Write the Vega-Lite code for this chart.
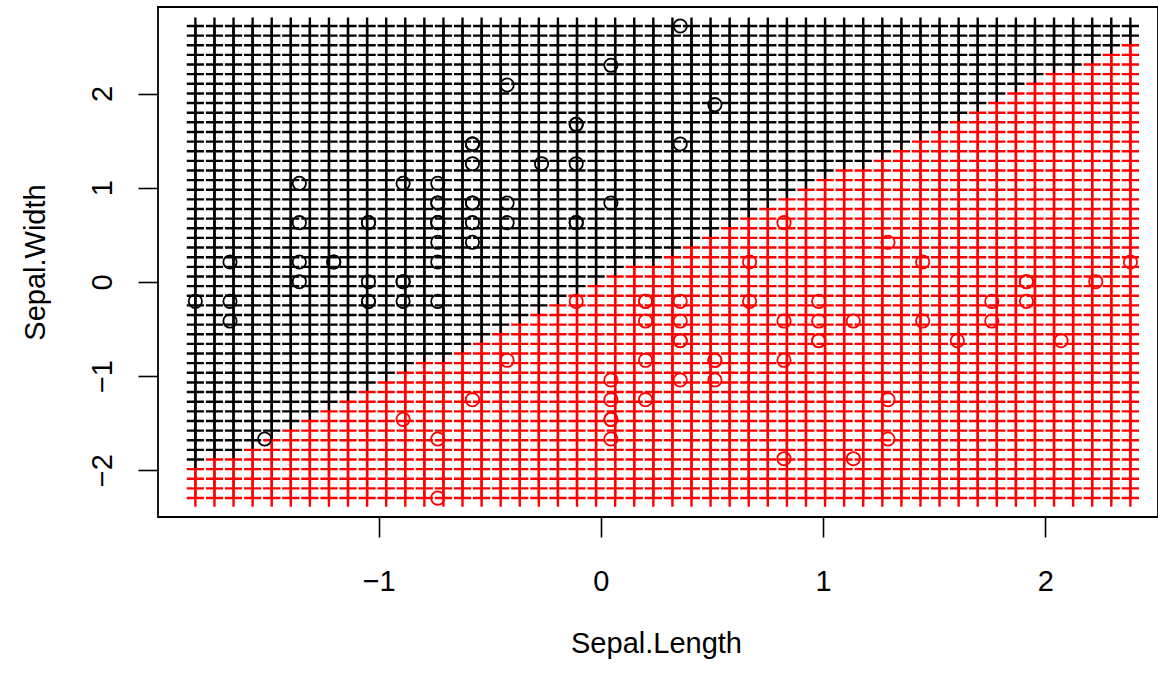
{
"$schema": "https://vega.github.io/schema/vega-lite/v6.json",
"width": 1000,
"height": 510,
"autosize": {"type": "none"},
"padding": {"left": 158, "top": 7, "right": 0, "bottom": 157},
"background": "white",
"config": {"view": {"stroke": "black", "strokeWidth": 1.8}, "font": "Liberation Sans"},
"datasets": {
"gy": [
{"i":0,"y":-2.2956},{"i":1,"y":-2.1933},{"i":2,"y":-2.0910},{"i":3,"y":-1.9887},{"i":4,"y":-1.8864},{"i":5,"y":-1.7841},{"i":6,"y":-1.6818},{"i":7,"y":-1.5795},{"i":8,"y":-1.4772},{"i":9,"y":-1.3749},
{"i":10,"y":-1.2725},{"i":11,"y":-1.1702},{"i":12,"y":-1.0679},{"i":13,"y":-0.9656},{"i":14,"y":-0.8633},{"i":15,"y":-0.7610},{"i":16,"y":-0.6587},{"i":17,"y":-0.5564},{"i":18,"y":-0.4541},{"i":19,"y":-0.3518},
{"i":20,"y":-0.2495},{"i":21,"y":-0.1472},{"i":22,"y":-0.0449},{"i":23,"y":0.0574},{"i":24,"y":0.1597},{"i":25,"y":0.2621},{"i":26,"y":0.3644},{"i":27,"y":0.4667},{"i":28,"y":0.5690},{"i":29,"y":0.6713},
{"i":30,"y":0.7736},{"i":31,"y":0.8759},{"i":32,"y":0.9782},{"i":33,"y":1.0805},{"i":34,"y":1.1828},{"i":35,"y":1.2851},{"i":36,"y":1.3874},{"i":37,"y":1.4897},{"i":38,"y":1.5920},{"i":39,"y":1.6943},
{"i":40,"y":1.7966},{"i":41,"y":1.8989},{"i":42,"y":2.0012},{"i":43,"y":2.1035},{"i":44,"y":2.2058},{"i":45,"y":2.3082},{"i":46,"y":2.4105},{"i":47,"y":2.5128},{"i":48,"y":2.6151},{"i":49,"y":2.7174}
],
"grid": [
{"x":-1.8248,"c":"versicolor","i":[0,1,2,3]},
{"x":-1.8248,"c":"setosa","i":[4,5,6,7,8,9,10,11,12,13,14,15,16,17,18,19,20,21,22,23,24,25,26,27,28,29,30,31,32,33,34,35,36,37,38,39,40,41,42,43,44,45,46,47,48,49]},
{"x":-1.7389,"c":"versicolor","i":[0,1,2,3,4]},
{"x":-1.7389,"c":"setosa","i":[5,6,7,8,9,10,11,12,13,14,15,16,17,18,19,20,21,22,23,24,25,26,27,28,29,30,31,32,33,34,35,36,37,38,39,40,41,42,43,44,45,46,47,48,49]},
{"x":-1.6531,"c":"versicolor","i":[0,1,2,3,4]},
{"x":-1.6531,"c":"setosa","i":[5,6,7,8,9,10,11,12,13,14,15,16,17,18,19,20,21,22,23,24,25,26,27,28,29,30,31,32,33,34,35,36,37,38,39,40,41,42,43,44,45,46,47,48,49]},
{"x":-1.5672,"c":"versicolor","i":[0,1,2,3,4,5]},
{"x":-1.5672,"c":"setosa","i":[6,7,8,9,10,11,12,13,14,15,16,17,18,19,20,21,22,23,24,25,26,27,28,29,30,31,32,33,34,35,36,37,38,39,40,41,42,43,44,45,46,47,48,49]},
{"x":-1.4813,"c":"versicolor","i":[0,1,2,3,4,5,6]},
{"x":-1.4813,"c":"setosa","i":[7,8,9,10,11,12,13,14,15,16,17,18,19,20,21,22,23,24,25,26,27,28,29,30,31,32,33,34,35,36,37,38,39,40,41,42,43,44,45,46,47,48,49]},
{"x":-1.3955,"c":"versicolor","i":[0,1,2,3,4,5,6,7]},
{"x":-1.3955,"c":"setosa","i":[8,9,10,11,12,13,14,15,16,17,18,19,20,21,22,23,24,25,26,27,28,29,30,31,32,33,34,35,36,37,38,39,40,41,42,43,44,45,46,47,48,49]},
{"x":-1.3096,"c":"versicolor","i":[0,1,2,3,4,5,6,7,8]},
{"x":-1.3096,"c":"setosa","i":[9,10,11,12,13,14,15,16,17,18,19,20,21,22,23,24,25,26,27,28,29,30,31,32,33,34,35,36,37,38,39,40,41,42,43,44,45,46,47,48,49]},
{"x":-1.2237,"c":"versicolor","i":[0,1,2,3,4,5,6,7,8,9]},
{"x":-1.2237,"c":"setosa","i":[10,11,12,13,14,15,16,17,18,19,20,21,22,23,24,25,26,27,28,29,30,31,32,33,34,35,36,37,38,39,40,41,42,43,44,45,46,47,48,49]},
{"x":-1.1379,"c":"versicolor","i":[0,1,2,3,4,5,6,7,8,9,10]},
{"x":-1.1379,"c":"setosa","i":[11,12,13,14,15,16,17,18,19,20,21,22,23,24,25,26,27,28,29,30,31,32,33,34,35,36,37,38,39,40,41,42,43,44,45,46,47,48,49]},
{"x":-1.0520,"c":"versicolor","i":[0,1,2,3,4,5,6,7,8,9,10,11]},
{"x":-1.0520,"c":"setosa","i":[12,13,14,15,16,17,18,19,20,21,22,23,24,25,26,27,28,29,30,31,32,33,34,35,36,37,38,39,40,41,42,43,44,45,46,47,48,49]},
{"x":-0.9661,"c":"versicolor","i":[0,1,2,3,4,5,6,7,8,9,10,11,12]},
{"x":-0.9661,"c":"setosa","i":[13,14,15,16,17,18,19,20,21,22,23,24,25,26,27,28,29,30,31,32,33,34,35,36,37,38,39,40,41,42,43,44,45,46,47,48,49]},
{"x":-0.8803,"c":"versicolor","i":[0,1,2,3,4,5,6,7,8,9,10,11,12,13]},
{"x":-0.8803,"c":"setosa","i":[14,15,16,17,18,19,20,21,22,23,24,25,26,27,28,29,30,31,32,33,34,35,36,37,38,39,40,41,42,43,44,45,46,47,48,49]},
{"x":-0.7944,"c":"versicolor","i":[0,1,2,3,4,5,6,7,8,9,10,11,12,13,14]},
{"x":-0.7944,"c":"setosa","i":[15,16,17,18,19,20,21,22,23,24,25,26,27,28,29,30,31,32,33,34,35,36,37,38,39,40,41,42,43,44,45,46,47,48,49]},
{"x":-0.7085,"c":"versicolor","i":[0,1,2,3,4,5,6,7,8,9,10,11,12,13,14]},
{"x":-0.7085,"c":"setosa","i":[15,16,17,18,19,20,21,22,23,24,25,26,27,28,29,30,31,32,33,34,35,36,37,38,39,40,41,42,43,44,45,46,47,48,49]},
{"x":-0.6227,"c":"versicolor","i":[0,1,2,3,4,5,6,7,8,9,10,11,12,13,14,15]},
{"x":-0.6227,"c":"setosa","i":[16,17,18,19,20,21,22,23,24,25,26,27,28,29,30,31,32,33,34,35,36,37,38,39,40,41,42,43,44,45,46,47,48,49]},
{"x":-0.5368,"c":"versicolor","i":[0,1,2,3,4,5,6,7,8,9,10,11,12,13,14,15,16]},
{"x":-0.5368,"c":"setosa","i":[17,18,19,20,21,22,23,24,25,26,27,28,29,30,31,32,33,34,35,36,37,38,39,40,41,42,43,44,45,46,47,48,49]},
{"x":-0.4509,"c":"versicolor","i":[0,1,2,3,4,5,6,7,8,9,10,11,12,13,14,15,16,17]},
{"x":-0.4509,"c":"setosa","i":[18,19,20,21,22,23,24,25,26,27,28,29,30,31,32,33,34,35,36,37,38,39,40,41,42,43,44,45,46,47,48,49]},
{"x":-0.3651,"c":"versicolor","i":[0,1,2,3,4,5,6,7,8,9,10,11,12,13,14,15,16,17,18]},
{"x":-0.3651,"c":"setosa","i":[19,20,21,22,23,24,25,26,27,28,29,30,31,32,33,34,35,36,37,38,39,40,41,42,43,44,45,46,47,48,49]},
{"x":-0.2792,"c":"versicolor","i":[0,1,2,3,4,5,6,7,8,9,10,11,12,13,14,15,16,17,18,19]},
{"x":-0.2792,"c":"setosa","i":[20,21,22,23,24,25,26,27,28,29,30,31,32,33,34,35,36,37,38,39,40,41,42,43,44,45,46,47,48,49]},
{"x":-0.1933,"c":"versicolor","i":[0,1,2,3,4,5,6,7,8,9,10,11,12,13,14,15,16,17,18,19,20]},
{"x":-0.1933,"c":"setosa","i":[21,22,23,24,25,26,27,28,29,30,31,32,33,34,35,36,37,38,39,40,41,42,43,44,45,46,47,48,49]},
{"x":-0.1075,"c":"versicolor","i":[0,1,2,3,4,5,6,7,8,9,10,11,12,13,14,15,16,17,18,19,20,21]},
{"x":-0.1075,"c":"setosa","i":[22,23,24,25,26,27,28,29,30,31,32,33,34,35,36,37,38,39,40,41,42,43,44,45,46,47,48,49]},
{"x":-0.0216,"c":"versicolor","i":[0,1,2,3,4,5,6,7,8,9,10,11,12,13,14,15,16,17,18,19,20,21,22]},
{"x":-0.0216,"c":"setosa","i":[23,24,25,26,27,28,29,30,31,32,33,34,35,36,37,38,39,40,41,42,43,44,45,46,47,48,49]},
{"x":0.0643,"c":"versicolor","i":[0,1,2,3,4,5,6,7,8,9,10,11,12,13,14,15,16,17,18,19,20,21,22,23]},
{"x":0.0643,"c":"setosa","i":[24,25,26,27,28,29,30,31,32,33,34,35,36,37,38,39,40,41,42,43,44,45,46,47,48,49]},
{"x":0.1501,"c":"versicolor","i":[0,1,2,3,4,5,6,7,8,9,10,11,12,13,14,15,16,17,18,19,20,21,22,23,24]},
{"x":0.1501,"c":"setosa","i":[25,26,27,28,29,30,31,32,33,34,35,36,37,38,39,40,41,42,43,44,45,46,47,48,49]},
{"x":0.2360,"c":"versicolor","i":[0,1,2,3,4,5,6,7,8,9,10,11,12,13,14,15,16,17,18,19,20,21,22,23,24]},
{"x":0.2360,"c":"setosa","i":[25,26,27,28,29,30,31,32,33,34,35,36,37,38,39,40,41,42,43,44,45,46,47,48,49]},
{"x":0.3219,"c":"versicolor","i":[0,1,2,3,4,5,6,7,8,9,10,11,12,13,14,15,16,17,18,19,20,21,22,23,24,25]},
{"x":0.3219,"c":"setosa","i":[26,27,28,29,30,31,32,33,34,35,36,37,38,39,40,41,42,43,44,45,46,47,48,49]},
{"x":0.4077,"c":"versicolor","i":[0,1,2,3,4,5,6,7,8,9,10,11,12,13,14,15,16,17,18,19,20,21,22,23,24,25,26]},
{"x":0.4077,"c":"setosa","i":[27,28,29,30,31,32,33,34,35,36,37,38,39,40,41,42,43,44,45,46,47,48,49]},
{"x":0.4936,"c":"versicolor","i":[0,1,2,3,4,5,6,7,8,9,10,11,12,13,14,15,16,17,18,19,20,21,22,23,24,25,26,27]},
{"x":0.4936,"c":"setosa","i":[28,29,30,31,32,33,34,35,36,37,38,39,40,41,42,43,44,45,46,47,48,49]},
{"x":0.5795,"c":"versicolor","i":[0,1,2,3,4,5,6,7,8,9,10,11,12,13,14,15,16,17,18,19,20,21,22,23,24,25,26,27,28]},
{"x":0.5795,"c":"setosa","i":[29,30,31,32,33,34,35,36,37,38,39,40,41,42,43,44,45,46,47,48,49]},
{"x":0.6653,"c":"versicolor","i":[0,1,2,3,4,5,6,7,8,9,10,11,12,13,14,15,16,17,18,19,20,21,22,23,24,25,26,27,28,29]},
{"x":0.6653,"c":"setosa","i":[30,31,32,33,34,35,36,37,38,39,40,41,42,43,44,45,46,47,48,49]},
{"x":0.7512,"c":"versicolor","i":[0,1,2,3,4,5,6,7,8,9,10,11,12,13,14,15,16,17,18,19,20,21,22,23,24,25,26,27,28,29,30]},
{"x":0.7512,"c":"setosa","i":[31,32,33,34,35,36,37,38,39,40,41,42,43,44,45,46,47,48,49]},
{"x":0.8371,"c":"versicolor","i":[0,1,2,3,4,5,6,7,8,9,10,11,12,13,14,15,16,17,18,19,20,21,22,23,24,25,26,27,28,29,30,31]},
{"x":0.8371,"c":"setosa","i":[32,33,34,35,36,37,38,39,40,41,42,43,44,45,46,47,48,49]},
{"x":0.9229,"c":"versicolor","i":[0,1,2,3,4,5,6,7,8,9,10,11,12,13,14,15,16,17,18,19,20,21,22,23,24,25,26,27,28,29,30,31,32]},
{"x":0.9229,"c":"setosa","i":[33,34,35,36,37,38,39,40,41,42,43,44,45,46,47,48,49]},
{"x":1.0088,"c":"versicolor","i":[0,1,2,3,4,5,6,7,8,9,10,11,12,13,14,15,16,17,18,19,20,21,22,23,24,25,26,27,28,29,30,31,32,33]},
{"x":1.0088,"c":"setosa","i":[34,35,36,37,38,39,40,41,42,43,44,45,46,47,48,49]},
{"x":1.0947,"c":"versicolor","i":[0,1,2,3,4,5,6,7,8,9,10,11,12,13,14,15,16,17,18,19,20,21,22,23,24,25,26,27,28,29,30,31,32,33,34]},
{"x":1.0947,"c":"setosa","i":[35,36,37,38,39,40,41,42,43,44,45,46,47,48,49]},
{"x":1.1805,"c":"versicolor","i":[0,1,2,3,4,5,6,7,8,9,10,11,12,13,14,15,16,17,18,19,20,21,22,23,24,25,26,27,28,29,30,31,32,33,34]},
{"x":1.1805,"c":"setosa","i":[35,36,37,38,39,40,41,42,43,44,45,46,47,48,49]},
{"x":1.2664,"c":"versicolor","i":[0,1,2,3,4,5,6,7,8,9,10,11,12,13,14,15,16,17,18,19,20,21,22,23,24,25,26,27,28,29,30,31,32,33,34,35]},
{"x":1.2664,"c":"setosa","i":[36,37,38,39,40,41,42,43,44,45,46,47,48,49]},
{"x":1.3523,"c":"versicolor","i":[0,1,2,3,4,5,6,7,8,9,10,11,12,13,14,15,16,17,18,19,20,21,22,23,24,25,26,27,28,29,30,31,32,33,34,35,36]},
{"x":1.3523,"c":"setosa","i":[37,38,39,40,41,42,43,44,45,46,47,48,49]},
{"x":1.4381,"c":"versicolor","i":[0,1,2,3,4,5,6,7,8,9,10,11,12,13,14,15,16,17,18,19,20,21,22,23,24,25,26,27,28,29,30,31,32,33,34,35,36,37]},
{"x":1.4381,"c":"setosa","i":[38,39,40,41,42,43,44,45,46,47,48,49]},
{"x":1.5240,"c":"versicolor","i":[0,1,2,3,4,5,6,7,8,9,10,11,12,13,14,15,16,17,18,19,20,21,22,23,24,25,26,27,28,29,30,31,32,33,34,35,36,37,38]},
{"x":1.5240,"c":"setosa","i":[39,40,41,42,43,44,45,46,47,48,49]},
{"x":1.6099,"c":"versicolor","i":[0,1,2,3,4,5,6,7,8,9,10,11,12,13,14,15,16,17,18,19,20,21,22,23,24,25,26,27,28,29,30,31,32,33,34,35,36,37,38,39]},
{"x":1.6099,"c":"setosa","i":[40,41,42,43,44,45,46,47,48,49]},
{"x":1.6957,"c":"versicolor","i":[0,1,2,3,4,5,6,7,8,9,10,11,12,13,14,15,16,17,18,19,20,21,22,23,24,25,26,27,28,29,30,31,32,33,34,35,36,37,38,39,40]},
{"x":1.6957,"c":"setosa","i":[41,42,43,44,45,46,47,48,49]},
{"x":1.7816,"c":"versicolor","i":[0,1,2,3,4,5,6,7,8,9,10,11,12,13,14,15,16,17,18,19,20,21,22,23,24,25,26,27,28,29,30,31,32,33,34,35,36,37,38,39,40,41]},
{"x":1.7816,"c":"setosa","i":[42,43,44,45,46,47,48,49]},
{"x":1.8675,"c":"versicolor","i":[0,1,2,3,4,5,6,7,8,9,10,11,12,13,14,15,16,17,18,19,20,21,22,23,24,25,26,27,28,29,30,31,32,33,34,35,36,37,38,39,40,41,42]},
{"x":1.8675,"c":"setosa","i":[43,44,45,46,47,48,49]},
{"x":1.9533,"c":"versicolor","i":[0,1,2,3,4,5,6,7,8,9,10,11,12,13,14,15,16,17,18,19,20,21,22,23,24,25,26,27,28,29,30,31,32,33,34,35,36,37,38,39,40,41,42,43]},
{"x":1.9533,"c":"setosa","i":[44,45,46,47,48,49]},
{"x":2.0392,"c":"versicolor","i":[0,1,2,3,4,5,6,7,8,9,10,11,12,13,14,15,16,17,18,19,20,21,22,23,24,25,26,27,28,29,30,31,32,33,34,35,36,37,38,39,40,41,42,43,44]},
{"x":2.0392,"c":"setosa","i":[45,46,47,48,49]},
{"x":2.1251,"c":"versicolor","i":[0,1,2,3,4,5,6,7,8,9,10,11,12,13,14,15,16,17,18,19,20,21,22,23,24,25,26,27,28,29,30,31,32,33,34,35,36,37,38,39,40,41,42,43,44]},
{"x":2.1251,"c":"setosa","i":[45,46,47,48,49]},
{"x":2.2109,"c":"versicolor","i":[0,1,2,3,4,5,6,7,8,9,10,11,12,13,14,15,16,17,18,19,20,21,22,23,24,25,26,27,28,29,30,31,32,33,34,35,36,37,38,39,40,41,42,43,44,45]},
{"x":2.2109,"c":"setosa","i":[46,47,48,49]},
{"x":2.2968,"c":"versicolor","i":[0,1,2,3,4,5,6,7,8,9,10,11,12,13,14,15,16,17,18,19,20,21,22,23,24,25,26,27,28,29,30,31,32,33,34,35,36,37,38,39,40,41,42,43,44,45,46]},
{"x":2.2968,"c":"setosa","i":[47,48,49]},
{"x":2.3827,"c":"versicolor","i":[0,1,2,3,4,5,6,7,8,9,10,11,12,13,14,15,16,17,18,19,20,21,22,23,24,25,26,27,28,29,30,31,32,33,34,35,36,37,38,39,40,41,42,43,44,45,46,47]},
{"x":2.3827,"c":"setosa","i":[48,49]}
],
"pts": [
{"x":-0.578,"y":0.838,"c":"setosa"},{"x":-0.890,"y":-0.207,"c":"setosa"},{"x":-1.202,"y":0.211,"c":"setosa"},{"x":-1.357,"y":0.002,"c":"setosa"},{"x":-0.734,"y":1.046,"c":"setosa"},
{"x":-0.111,"y":1.673,"c":"setosa"},{"x":-1.357,"y":0.629,"c":"setosa"},{"x":-0.734,"y":0.629,"c":"setosa"},{"x":-1.669,"y":-0.416,"c":"setosa"},{"x":-0.890,"y":0.002,"c":"setosa"},
{"x":-0.111,"y":1.255,"c":"setosa"},{"x":-1.046,"y":0.629,"c":"setosa"},{"x":-1.046,"y":-0.207,"c":"setosa"},{"x":-1.825,"y":-0.207,"c":"setosa"},{"x":0.513,"y":1.882,"c":"setosa"},
{"x":0.357,"y":2.717,"c":"setosa"},{"x":-0.111,"y":1.673,"c":"setosa"},{"x":-0.578,"y":0.838,"c":"setosa"},{"x":0.357,"y":1.464,"c":"setosa"},{"x":-0.578,"y":1.464,"c":"setosa"},
{"x":-0.111,"y":0.629,"c":"setosa"},{"x":-0.578,"y":1.255,"c":"setosa"},{"x":-1.357,"y":1.046,"c":"setosa"},{"x":-0.578,"y":0.420,"c":"setosa"},{"x":-1.046,"y":0.629,"c":"setosa"},
{"x":-0.734,"y":-0.207,"c":"setosa"},{"x":-0.734,"y":0.629,"c":"setosa"},{"x":-0.422,"y":0.838,"c":"setosa"},{"x":-0.422,"y":0.629,"c":"setosa"},{"x":-1.202,"y":0.211,"c":"setosa"},
{"x":-1.046,"y":0.002,"c":"setosa"},{"x":-0.111,"y":0.629,"c":"setosa"},{"x":-0.422,"y":2.091,"c":"setosa"},{"x":0.045,"y":2.300,"c":"setosa"},{"x":-0.890,"y":0.002,"c":"setosa"},
{"x":-0.734,"y":0.211,"c":"setosa"},{"x":0.045,"y":0.838,"c":"setosa"},{"x":-0.890,"y":1.046,"c":"setosa"},{"x":-1.669,"y":-0.207,"c":"setosa"},{"x":-0.578,"y":0.629,"c":"setosa"},
{"x":-0.734,"y":0.838,"c":"setosa"},{"x":-1.513,"y":-1.669,"c":"setosa"},{"x":-1.669,"y":0.211,"c":"setosa"},{"x":-0.734,"y":0.838,"c":"setosa"},{"x":-0.578,"y":1.464,"c":"setosa"},
{"x":-1.046,"y":-0.207,"c":"setosa"},{"x":-0.578,"y":1.464,"c":"setosa"},{"x":-1.357,"y":0.211,"c":"setosa"},{"x":-0.267,"y":1.255,"c":"setosa"},{"x":-0.734,"y":0.420,"c":"setosa"},
{"x":2.383,"y":0.211,"c":"versicolor"},{"x":1.448,"y":0.211,"c":"versicolor"},{"x":2.227,"y":0.002,"c":"versicolor"},{"x":0.045,"y":-1.669,"c":"versicolor"},{"x":1.604,"y":-0.625,"c":"versicolor"},
{"x":0.357,"y":-0.625,"c":"versicolor"},{"x":1.292,"y":0.420,"c":"versicolor"},{"x":-0.890,"y":-1.460,"c":"versicolor"},{"x":1.759,"y":-0.416,"c":"versicolor"},{"x":-0.422,"y":-0.833,"c":"versicolor"},
{"x":-0.734,"y":-2.296,"c":"versicolor"},{"x":0.669,"y":-0.207,"c":"versicolor"},{"x":0.824,"y":-1.878,"c":"versicolor"},{"x":0.980,"y":-0.416,"c":"versicolor"},{"x":0.201,"y":-0.416,"c":"versicolor"},
{"x":1.915,"y":0.002,"c":"versicolor"},{"x":0.201,"y":-0.207,"c":"versicolor"},{"x":0.513,"y":-0.833,"c":"versicolor"},{"x":1.136,"y":-1.878,"c":"versicolor"},{"x":0.201,"y":-1.251,"c":"versicolor"},
{"x":0.669,"y":0.211,"c":"versicolor"},{"x":0.980,"y":-0.625,"c":"versicolor"},{"x":1.292,"y":-1.251,"c":"versicolor"},{"x":0.980,"y":-0.625,"c":"versicolor"},{"x":1.448,"y":-0.416,"c":"versicolor"},
{"x":1.759,"y":-0.207,"c":"versicolor"},{"x":2.071,"y":-0.625,"c":"versicolor"},{"x":1.915,"y":-0.207,"c":"versicolor"},{"x":0.824,"y":-0.416,"c":"versicolor"},{"x":0.357,"y":-1.042,"c":"versicolor"},
{"x":0.045,"y":-1.460,"c":"versicolor"},{"x":0.045,"y":-1.460,"c":"versicolor"},{"x":0.513,"y":-0.833,"c":"versicolor"},{"x":0.824,"y":-0.833,"c":"versicolor"},{"x":-0.111,"y":-0.207,"c":"versicolor"},
{"x":0.824,"y":0.629,"c":"versicolor"},{"x":1.915,"y":0.002,"c":"versicolor"},{"x":1.292,"y":-1.669,"c":"versicolor"},{"x":0.201,"y":-0.207,"c":"versicolor"},{"x":0.045,"y":-1.251,"c":"versicolor"},
{"x":0.045,"y":-1.042,"c":"versicolor"},{"x":0.980,"y":-0.207,"c":"versicolor"},{"x":0.513,"y":-1.042,"c":"versicolor"},{"x":-0.734,"y":-1.669,"c":"versicolor"},{"x":0.201,"y":-0.833,"c":"versicolor"},
{"x":0.357,"y":-0.207,"c":"versicolor"},{"x":0.357,"y":-0.416,"c":"versicolor"},{"x":1.136,"y":-0.416,"c":"versicolor"},{"x":-0.578,"y":-1.251,"c":"versicolor"},{"x":0.357,"y":-0.625,"c":"versicolor"}
]
},
"layer": [
{
"data": {"name": "grid"},
"transform": [
{"flatten": ["i"]},
{"lookup": "i", "from": {"data": {"name": "gy"}, "key": "i", "fields": ["y"]}}
],
"mark": {"type": "point", "shape": "M-1,0L1,0M0,-1L0,1", "filled": false, "size": 296, "strokeWidth": 2.4, "opacity": 1},
"encoding": {
"x": {"field": "x", "type": "quantitative", "scale": {"domain": [-1.993, 2.507], "nice": false, "zero": false},
"axis": {"title": "Sepal.Length", "values": [-1, 0, 1, 2], "format": "d", "domain": false, "grid": false, "tickColor": "black", "tickSize": 20, "tickWidth": 1.6, "labelFontSize": 29, "labelColor": "black", "labelPadding": 30, "labelBaseline": "top", "labelFont": "Liberation Sans", "titleFont": "Liberation Sans", "titleFontSize": 29, "titleFontWeight": "normal", "titleColor": "black", "titleX": 498, "titleY": 126, "titleBaseline": "middle"}},
"y": {"field": "y", "type": "quantitative", "scale": {"domain": [-2.497, 2.919], "nice": false, "zero": false},
"axis": {"title": "Sepal.Width", "values": [-2, -1, 0, 1, 2], "format": "d", "domain": false, "grid": false, "tickColor": "black", "tickSize": 20, "tickWidth": 1.6, "labelFontSize": 29, "labelColor": "black", "labelAngle": -90, "labelAlign": "center", "labelBaseline": "bottom", "labelPadding": 21, "labelFont": "Liberation Sans", "titleFont": "Liberation Sans", "titleFontSize": 29, "titleFontWeight": "normal", "titleColor": "black", "titleAngle": -90, "titleX": -123, "titleBaseline": "middle"}},
"color": {"field": "c", "type": "nominal", "scale": {"domain": ["setosa", "versicolor"], "range": ["#000000", "#ff0000"]}, "legend": null}
}
},
{
"data": {"name": "pts"},
"mark": {"type": "point", "shape": "circle", "filled": false, "size": 177, "strokeWidth": 1.8, "opacity": 1},
"encoding": {
"x": {"field": "x", "type": "quantitative", "title": "Sepal.Length"},
"y": {"field": "y", "type": "quantitative", "title": "Sepal.Width"},
"color": {"field": "c", "type": "nominal", "legend": null}
}
}
]
}
